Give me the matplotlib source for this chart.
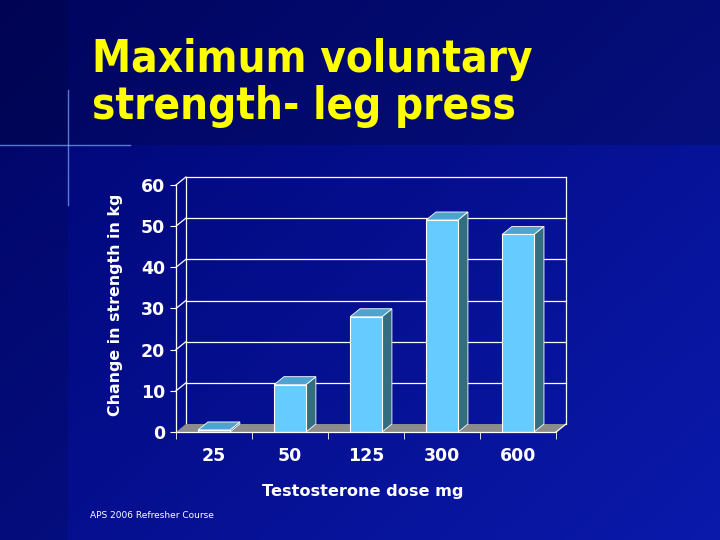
import matplotlib.pyplot as plt
import numpy as np
from matplotlib.patches import Polygon

# Chart data
doses = ["25", "50", "125", "300", "600"]
strength_gain = [0.5, 11.5, 28, 51.5, 48]
y_ticks = [0, 10, 20, 30, 40, 50, 60]

# 3D look
dx, dy = 0.13, 1.94
bar_w = 0.42
front_col = "#66CCFF"
side_col = "#336E80"
top_col = "#4FA3D1"

fig = plt.figure(figsize=(7.2, 5.4), dpi=100)

# slide background
bg = fig.add_axes([0, 0, 1, 1])
h, w = 540, 720
yy, xx = np.mgrid[0:h, 0:w]
t = np.clip(0.55 * xx / w + 0.45 * yy / h, 0, 1)
img = np.zeros((h, w, 3))
img[..., 0] = 0.0 + 0.04 * t
img[..., 1] = 0.02 + 0.08 * t
img[..., 2] = 0.45 + 0.22 * t
img[:145, :] = img[:145, :] * 0.82
img[:, :68] = img[:, :68] * 0.88
bg.imshow(img, aspect="auto", extent=[0, w, h, 0])
bg.plot([0, 130], [145, 145], color="#7FA8FF", lw=1.0, alpha=0.7)
bg.plot([68, 68], [90, 205], color="#7FA8FF", lw=1.0, alpha=0.7)
bg.set_xlim(0, w)
bg.set_ylim(h, 0)
bg.axis("off")

fig.text(92 / 720, 1 - 38 / 540, "Maximum voluntary\nstrength- leg press",
         color="#FFFF00", fontsize=31.5, fontweight="bold", fontstretch="condensed",
         va="top", ha="left", linespacing=1.12)
fig.text(90 / 720, 1 - 515 / 540, "APS 2006 Refresher Course",
         color="white", fontsize=6.5, va="center", ha="left")

ax = fig.add_axes([176 / 720, 1 - 432 / 540, 390 / 720, 255 / 540])
ax.set_facecolor("none")
ax.set_xlim(-0.5, 4.5 + dx)
ax.set_ylim(0, 60 + dy)
for s in ax.spines.values():
    s.set_visible(False)

x = np.arange(len(doses))
x0, x1 = -0.5, len(doses) - 0.5
line_kw = dict(color="white", lw=0.9, clip_on=False)

# floor
ax.add_patch(Polygon([(x0, 0), (x1, 0), (x1 + dx, dy), (x0 + dx, dy)],
                     closed=True, facecolor="#8C8C8C", edgecolor="none", zorder=1))
# gridlines on back wall and side wall
for v in y_ticks[1:]:
    ax.plot([x0 + dx, x1 + dx], [v + dy, v + dy], zorder=0.5, **line_kw)
    ax.plot([x0, x0 + dx], [v, v + dy], zorder=0.5, **line_kw)
ax.plot([x0 + dx, x0 + dx], [dy, 60 + dy], zorder=0.5, **line_kw)
ax.plot([x1 + dx, x1 + dx], [dy, 60 + dy], zorder=0.5, **line_kw)
ax.plot([x0, x0], [0, 60], zorder=5, **line_kw)
ax.plot([x0, x1], [0, 0], zorder=5, **line_kw)
ax.plot([x1, x1 + dx], [0, dy], zorder=5, **line_kw)

# bars
ax.bar(x, strength_gain, width=bar_w, color=front_col, edgecolor="white",
       linewidth=0.8, zorder=3)
for xi, v in zip(x, strength_gain):
    l, r = xi - bar_w / 2, xi + bar_w / 2
    ax.add_patch(Polygon([(r, 0), (r + dx, dy), (r + dx, v + dy), (r, v)],
                         closed=True, facecolor=side_col, edgecolor="white",
                         lw=0.6, zorder=2.9))
    ax.add_patch(Polygon([(l, v), (r, v), (r + dx, v + dy), (l + dx, v + dy)],
                         closed=True, facecolor=top_col, edgecolor="white",
                         lw=0.6, zorder=2.9))

ax.set_yticks(y_ticks)
ax.set_yticklabels([str(v) for v in y_ticks])
ax.set_xticks(x)
ax.set_xticklabels(doses)
ax.set_xticks(np.arange(len(doses) + 1) - 0.5, minor=True)
ax.tick_params(axis="x", which="major", length=0, pad=11, colors="white",
               labelsize=12.5)
ax.tick_params(axis="x", which="minor", length=5, color="white", direction="out")
ax.tick_params(axis="y", length=4, pad=4, colors="white", labelsize=12.5)
for lab in ax.get_xticklabels() + ax.get_yticklabels():
    lab.set_fontweight("bold")

ax.set_ylabel("Change in strength in kg", color="white", fontsize=11.4,
              fontweight="bold")
ax.yaxis.set_label_coords(-0.137, 0.498)
ax.set_xlabel("Testosterone dose mg", color="white", fontsize=11.6,
              fontweight="bold")
ax.xaxis.set_label_coords(0.48, -0.205)

plt.savefig("out.png", dpi=100)
plt.close()
